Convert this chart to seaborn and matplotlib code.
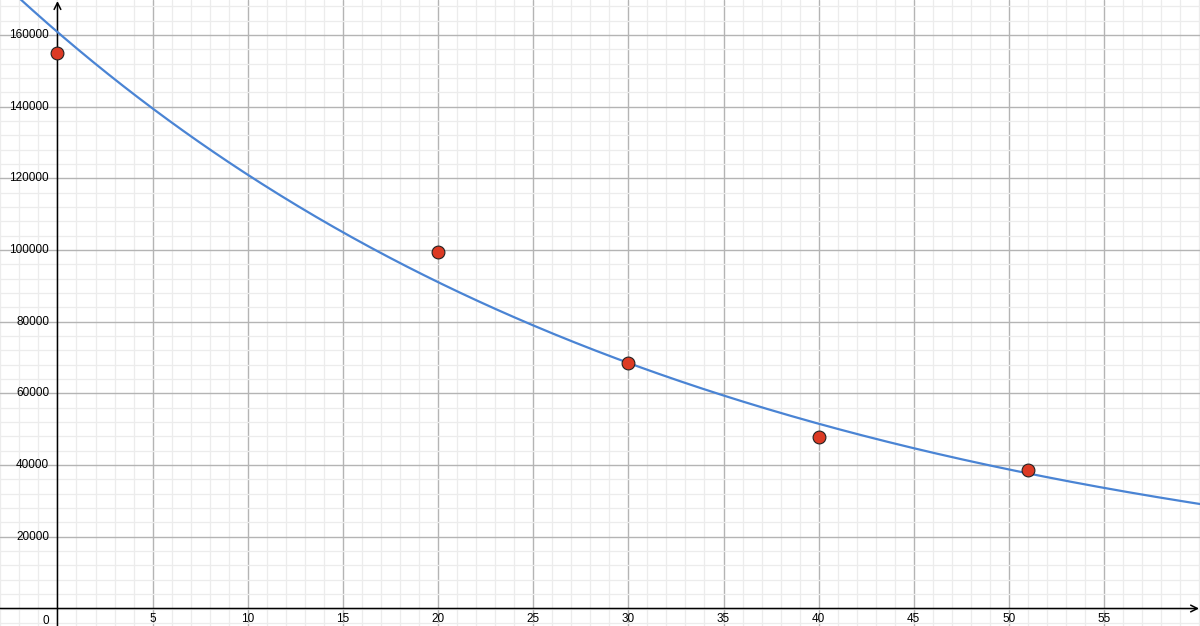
import numpy as np
import pandas as pd
import matplotlib
matplotlib.use("Agg")
import matplotlib.pyplot as plt
import seaborn as sns

# data points
x_points = [0, 20, 30, 40, 51]
y_points = [155000, 99400, 68500, 47700, 38700]

x_ticks = [5, 10, 15, 20, 25, 30, 35, 40, 45, 50, 55]
y_ticks = [20000, 40000, 60000, 80000, 100000, 120000, 140000, 160000]

x_min, x_max = -3.02, 60.04
y_min, y_max = -4880, 169735

sns.set_style("white")
plt.rcParams['font.family'] = ['Liberation Sans', 'DejaVu Sans']

# exponential fit through the points (log-linear regression)
slope, intercept = np.polyfit(x_points, np.log(y_points), 1)
x_curve = np.linspace(x_min, x_max, 400)
curve = pd.DataFrame({"x": x_curve, "y": np.exp(intercept + slope * x_curve)})
points = pd.DataFrame({"x": x_points, "y": y_points})

fig = plt.figure(figsize=(12, 6.26), dpi=100)
ax = fig.add_axes([0, 0, 1, 1])

# grid
ax.set_xticks(x_ticks)
ax.set_yticks(y_ticks)
ax.set_xticks(np.arange(-3, 61, 1), minor=True)
ax.set_yticks(np.arange(-4000, 170001, 4000), minor=True)
ax.grid(which='minor', color='#ececec', lw=0.9, zorder=0)
ax.grid(which='major', color='#b4b4b4', lw=1.0, zorder=0)
ax.tick_params(which='both', length=0, labelbottom=False, labelleft=False)
ax.set_axisbelow(True)
for s in ax.spines.values():
    s.set_visible(False)

ax.set_xlim(x_min, x_max)
ax.set_ylim(y_min, y_max)

# axes with arrows
ax.annotate('', xy=(x_max - 0.05, 0), xytext=(x_min, 0),
            arrowprops=dict(arrowstyle='->', lw=1.1, color='black', shrinkA=0, shrinkB=0,
                            mutation_scale=12))
ax.annotate('', xy=(0, y_max - 300), xytext=(0, y_min),
            arrowprops=dict(arrowstyle='->', lw=1.1, color='black', shrinkA=0, shrinkB=0,
                            mutation_scale=12))

# tick labels
for xt in x_ticks:
    ax.annotate(str(xt), xy=(xt, 0), xytext=(0, -3), textcoords='offset points',
                ha='center', va='top', fontsize=8.5, color='black')
for yt in y_ticks:
    ax.annotate(str(yt), xy=(0, yt), xytext=(-6, 0), textcoords='offset points',
                ha='right', va='center', fontsize=8.5, color='black')
ax.annotate('0', xy=(0, 0), xytext=(-6, -4.5), textcoords='offset points',
            ha='right', va='top', fontsize=8.5, color='black')

sns.lineplot(data=curve, x="x", y="y", ax=ax, color='#4a84d4', lw=1.6, zorder=3)
sns.scatterplot(data=points, x="x", y="y", ax=ax, color='#dc3a24', edgecolor='#222222',
                linewidth=0.8, s=85, zorder=4)
ax.set_xlabel('')
ax.set_ylabel('')

fig.savefig("out.png", dpi=100)
